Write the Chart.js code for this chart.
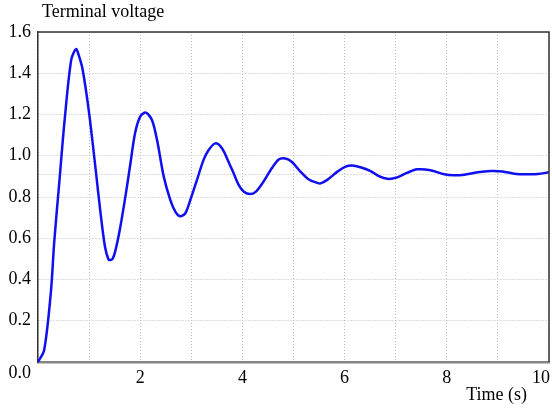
<!DOCTYPE html>
<html>
<head>
<meta charset="utf-8">
<title>Terminal voltage</title>
<script src="https://cdn.jsdelivr.net/npm/chart.js@4.4.1/dist/chart.umd.min.js"></script>
<style>
  html, body { margin: 0; padding: 0; background: #fff; }
  #wrap { width: 552px; height: 411px; }
</style>
</head>
<body>
<div id="wrap"><canvas id="chart" width="552" height="411"></canvas></div>
<script>
(function () {
  "use strict";

  // ---- data -------------------------------------------------------------
  const TIMES = [
    0.00, 0.12, 0.25, 0.32, 0.42, 0.52, 0.65, 0.745, 0.80, 0.875,
    1.00, 1.13, 1.22, 1.31, 1.38, 1.42, 1.46, 1.51, 1.60, 1.70,
    1.80, 1.90, 2.00, 2.11, 2.23, 2.33, 2.46, 2.59, 2.69, 2.78,
    2.88, 2.98, 3.11, 3.24, 3.34, 3.47, 3.60, 3.73, 3.83, 3.93,
    4.03, 4.15, 4.26, 4.39, 4.55, 4.71, 4.84, 4.97, 5.14, 5.30,
    5.46, 5.53, 5.66, 5.86, 6.02, 6.15, 6.31, 6.51, 6.67, 6.84,
    7.03, 7.23, 7.42, 7.68, 7.95, 8.14, 8.34, 8.60, 8.86, 9.09,
    9.32, 9.58, 9.78, 10.00
  ];
  const VOLTS = [
    0.000, 0.057, 0.333, 0.590, 0.880, 1.170, 1.465, 1.517, 1.485, 1.416,
    1.207, 0.930, 0.730, 0.560, 0.497, 0.495, 0.500, 0.535, 0.640, 0.786,
    0.948, 1.110, 1.190, 1.209, 1.173, 1.076, 0.900, 0.785, 0.728, 0.707,
    0.720, 0.785, 0.882, 0.980, 1.028, 1.060, 1.036, 0.970, 0.914, 0.858,
    0.825, 0.814, 0.825, 0.866, 0.930, 0.982, 0.987, 0.970, 0.922, 0.885,
    0.869, 0.866, 0.883, 0.923, 0.947, 0.953, 0.944, 0.926, 0.901, 0.888,
    0.895, 0.918, 0.934, 0.930, 0.910, 0.905, 0.908, 0.920, 0.926, 0.924,
    0.913, 0.910, 0.911, 0.920
  ];
  const X_LABELS = [2, 4, 6, 8];     // labelled x ticks ("10" drawn at the edge)
  const Y_EXTRA_TICK = 0.91;         // unlabelled grid line at the settled value

  const TITLE = "Terminal voltage";
  const X_TITLE = "Time (s)";
  const FONT = '"Liberation Serif", "Times New Roman", serif';

  const GRID = { color: "#bdbdbd", lineWidth: 1, drawTicks: false };
  const DASH = [1, 2];

  // title, x-axis title, top/right frame, and the two labels that sit off their tick
  const extras = {
    id: "extras",
    afterDraw(chart) {
      const { ctx, chartArea: a } = chart;
      const xs = chart.scales.x;
      ctx.save();
      ctx.strokeStyle = "#333";
      ctx.lineWidth = 1.5;
      ctx.beginPath();
      ctx.moveTo(a.left, a.top);
      ctx.lineTo(a.right, a.top);
      ctx.lineTo(a.right, a.bottom);
      ctx.stroke();

      ctx.fillStyle = "#000";
      ctx.font = "18px " + FONT;
      ctx.textBaseline = "alphabetic";
      ctx.textAlign = "left";
      ctx.fillText(TITLE, a.left + 4, 17);
      ctx.textAlign = "right";
      ctx.fillText(X_TITLE, 527, 400);
      ctx.textBaseline = "middle";
      ctx.fillText("10", Math.min(xs.getPixelForValue(10) + 1, 551), a.bottom + 16);
      // "0.0" is pushed below the x axis in the original
      ctx.fillText("0.0", a.left - 7, a.bottom + 11);
      ctx.restore();
    },
  };

  new Chart(document.getElementById("chart"), {
    type: "line",
    data: {
      datasets: [{
        data: TIMES.map((t, i) => ({ x: t, y: VOLTS[i] })),
        borderColor: "#0f0ff0",
        borderWidth: 2.5,
        pointRadius: 0,
        tension: 0.3,
        fill: false,
      }],
    },
    options: {
      responsive: false,
      animation: false,
      devicePixelRatio: 1,
      layout: { padding: { top: 32, right: 3, left: 0, bottom: 0 } },
      plugins: { legend: { display: false }, tooltip: { enabled: false }, title: { display: false } },
      scales: {
        x: {
          type: "linear",
          min: 0,
          max: 10,
          border: { display: true, color: "#858585", width: 2.5, dash: DASH },
          grid: GRID,
          ticks: {
            stepSize: 1,
            padding: 5,
            color: "#000",
            font: { family: FONT, size: 18 },
            maxRotation: 0,
            autoSkip: false,
            callback: (v) => (X_LABELS.indexOf(v) > -1 ? String(v) : ""),
          },
          afterFit(scale) {
            scale.height = 49;
            scale.paddingLeft = 0;
            scale.paddingRight = 0;
          },
        },
        y: {
          min: 0,
          max: 1.6,
          border: { display: true, color: "#333", width: 1.5, dash: DASH },
          grid: GRID,
          ticks: {
            stepSize: 0.2,
            padding: 7,
            color: "#000",
            font: { family: FONT, size: 18 },
            callback: (v) => (Math.abs(v - Y_EXTRA_TICK) < 1e-6 || v === 0 ? "" : v.toFixed(1)),
          },
          afterBuildTicks(scale) {
            scale.ticks.push({ value: Y_EXTRA_TICK });
            scale.ticks.sort((a, b) => a.value - b.value);
          },
          afterFit(scale) {
            scale.width = 38;
          },
        },
      },
    },
    plugins: [extras],
  });
})();
</script>
</body>
</html>
